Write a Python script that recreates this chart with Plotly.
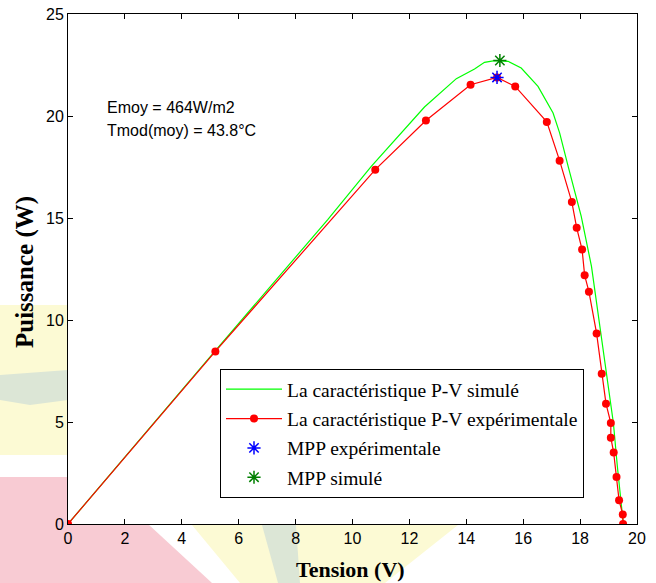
import plotly.graph_objects as go

# ---------------- data ----------------
v_exp = [0.0, 5.18, 10.80, 12.58, 14.15, 15.08, 15.72, 16.83, 17.28, 17.71, 17.88, 18.07,
         18.16, 18.31, 18.58, 18.76, 18.91, 19.08, 19.08, 19.18, 19.28, 19.37, 19.50, 19.51]
p_exp = [0.0, 8.46, 17.37, 19.78, 21.53, 21.89, 21.45, 19.71, 17.81, 15.78, 14.52, 13.45,
         12.19, 11.39, 9.34, 7.37, 5.90, 4.95, 4.23, 3.50, 2.30, 1.16, 0.46, 0.0]

v_sim = [0.0, 5.18, 9.13, 10.66, 12.53, 13.65, 14.29, 14.64, 15.00, 15.47, 15.93, 16.52,
         17.05, 17.28, 17.58, 18.04, 18.40, 18.70, 18.94, 19.17, 19.31, 19.47, 19.52]
p_sim = [0.0, 8.50, 14.92, 17.53, 20.44, 21.83, 22.30, 22.63, 22.71, 22.68, 22.35, 21.45,
         20.15, 19.17, 17.53, 15.08, 12.63, 9.69, 7.24, 4.95, 2.82, 0.78, 0.0]

mpp_exp_v = [15.08]
mpp_exp_p = [21.89]
mpp_sim_v = [15.18]
mpp_sim_p = [22.72]

x_ticks = [0, 2, 4, 6, 8, 10, 12, 14, 16, 18, 20]
y_ticks = [0, 5, 10, 15, 20, 25]

names = ["La caractéristique P-V simulé",
         "La caractéristique P-V expérimentale",
         "MPP expérimentale",
         "MPP simulé"]
info_lines = ["Emoy = 464W/m2", "Tmod(moy) = 43.8°C"]
x_title = "Tension (V)"
y_title = "Puissance (W)"

# ---------------- figure ----------------
W, H = 656, 583
L, R, T, B = 68, 19, 14, 59
pw, ph = W - L - R, H - T - B

def px(x, y):
    return ((x - L) / pw, (H - B - y) / ph)

def poly(pts):
    s = ""
    for i, (x, y) in enumerate(pts):
        a, b = px(x, y)
        s += ("M" if i == 0 else "L") + f"{a:.4f},{b:.4f} "
    return s + "Z"

serif = "Times New Roman, Liberation Serif, serif"
sans = "Arial, Liberation Sans, sans-serif"

fig = go.Figure()
fig.add_trace(go.Scatter(x=v_sim, y=p_sim, mode="lines", name=names[0],
                         line=dict(color="#00FF00", width=1.2), legendgroup="a"))
fig.add_trace(go.Scatter(x=v_exp, y=p_exp, mode="lines+markers", name=names[1],
                         line=dict(color="#FF0000", width=1.2),
                         marker=dict(color="#FF0000", size=8, symbol="circle"),
                         legendgroup="b"))
fig.add_trace(go.Scatter(x=mpp_exp_v, y=mpp_exp_p, mode="markers", name=names[2],
                         marker=dict(color="#0000FF", size=11, symbol="asterisk-open",
                                     line=dict(color="#0000FF", width=1.5)),
                         legendgroup="c"))
fig.add_trace(go.Scatter(x=mpp_sim_v, y=mpp_sim_p, mode="markers", name=names[3],
                         marker=dict(color="#008000", size=11, symbol="asterisk-open",
                                     line=dict(color="#008000", width=1.5)),
                         legendgroup="d"))

# faint watermark shapes outside the axes
shapes = [
    dict(type="path", path=poly([(0, 477), (68, 477), (68, 524), (148, 524), (212, 583), (0, 583)]),
         fillcolor="#F8CBD3", line=dict(width=0), xref="paper", yref="paper", layer="below"),
    dict(type="path", path=poly([(0, 305), (68, 305), (68, 455), (0, 455)]),
         fillcolor="#FCFAD4", line=dict(width=0), xref="paper", yref="paper", layer="below"),
    dict(type="path", path=poly([(0, 375), (68, 370), (68, 400), (30, 405), (0, 400)]),
         fillcolor="#DCE6D6", line=dict(width=0), xref="paper", yref="paper", layer="below"),
    dict(type="path", path=poly([(192, 525), (458, 525), (385, 583), (240, 583)]),
         fillcolor="#FCFAD4", line=dict(width=0), xref="paper", yref="paper", layer="below"),
    dict(type="path", path=poly([(262, 525), (296, 525), (300, 583), (278, 583)]),
         fillcolor="#DCE6D6", line=dict(width=0), xref="paper", yref="paper", layer="below"),
]

annotations = [
    dict(text=info_lines[0], x=px(105, 0)[0], y=px(0, 107)[1], xref="paper", yref="paper",
         xanchor="left", yanchor="middle", showarrow=False, font=dict(family=sans, size=16, color="black")),
    dict(text=info_lines[1], x=px(105, 0)[0], y=px(0, 130)[1], xref="paper", yref="paper",
         xanchor="left", yanchor="middle", showarrow=False, font=dict(family=sans, size=16, color="black")),
    dict(text="<b>" + x_title + "</b>", x=px(350, 0)[0], y=px(0, 569)[1], xref="paper", yref="paper",
         xanchor="center", yanchor="middle", showarrow=False, font=dict(family=serif, size=22, color="black")),
    dict(text="<b>" + y_title + "</b>", x=px(25, 0)[0], y=px(0, 272)[1], xref="paper", yref="paper",
         xanchor="center", yanchor="middle", showarrow=False, textangle=-90,
         font=dict(family=serif, size=25, color="black")),
]

axis_common = dict(showline=True, linecolor="black", linewidth=1, mirror="ticks",
                   ticks="inside", ticklen=5, tickcolor="black", tickwidth=1,
                   showgrid=False, zeroline=False, automargin=False,
                   tickfont=dict(family=sans, size=16, color="black"))

fig.update_layout(
    width=W, height=H,
    margin=dict(l=L, r=R, t=T, b=B, autoexpand=False),
    paper_bgcolor="white", plot_bgcolor="white",
    xaxis=dict(range=[0, 20], tickvals=x_ticks, **axis_common),
    yaxis=dict(range=[0, 25], tickvals=y_ticks, **axis_common),
    legend=dict(x=px(220, 0)[0], y=px(0, 369)[1], xanchor="left", yanchor="top",
                bgcolor="white", bordercolor="black", borderwidth=1,
                font=dict(family=serif, size=19.5, color="black"),
                tracegroupgap=1, itemwidth=56),
    shapes=shapes,
    annotations=annotations,
    showlegend=True,
)

fig.write_html("out.html", config={"displayModeBar": False},
               post_script="document.body.style.margin='0';")
